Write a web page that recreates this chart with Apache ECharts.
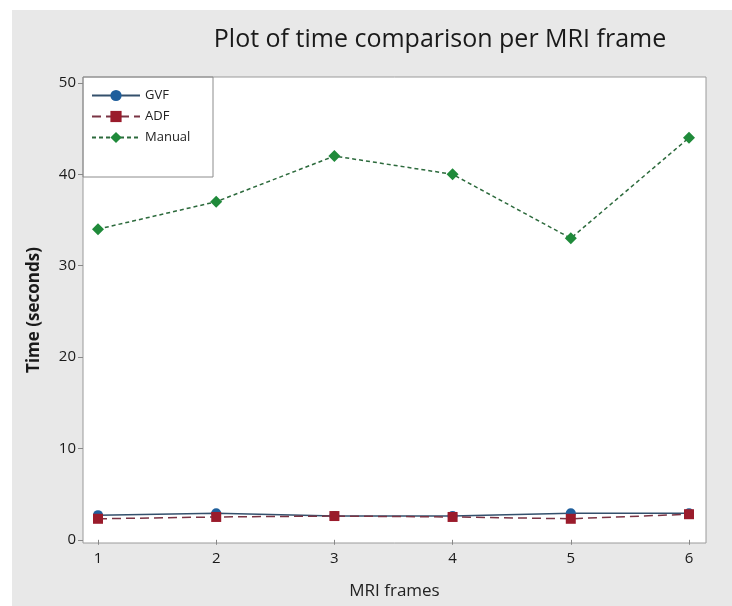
<!DOCTYPE html>
<html>
<head>
    <meta charset="utf-8">
    <title>Plot of time comparison per MRI frame</title>
    <script src="https://cdn.jsdelivr.net/npm/echarts@6/dist/echarts.min.js"></script>
</head>
<style>
    *{
        padding: 0;
        margin: 0;
    }
    body { background: #ffffff; }
    #main {
        width: 732px;
        height: 606px;
        position: absolute
    }
</style>
<body>
    <div id="main"></div>
    <script type="text/javascript">
    // data
    var frames = [1, 2, 3, 4, 5, 6];
    var gvf = [2.7, 2.9, 2.6, 2.6, 2.9, 2.9];
    var adf = [2.3, 2.5, 2.6, 2.5, 2.3, 2.8];
    var manual = [34, 37, 42, 40, 33, 44];
    var yTicks = [0, 10, 20, 30, 40, 50];

    function pairs(vals) {
        return frames.map(function (f, i) { return [f, vals[i]]; });
    }

    var font = '"Open Sans", "Noto Sans", sans-serif';
    var myChart = echarts.init(document.getElementById('main'));
    var option = {
        backgroundColor: '#ffffff',
        animation: false,
        textStyle: { fontFamily: font },
        title: {
            text: 'Plot of time comparison per MRI frame',
            left: 435,
            top: 22,
            textAlign: 'center',
            textStyle: { fontSize: 25, fontWeight: 'normal', color: '#1a1a1a', fontFamily: font }
        },
        graphic: [
            {
                type: 'rect', z: -100, silent: true,
                shape: { x: 12, y: 10, width: 720, height: 596 },
                style: { fill: '#e8e8e8' }
            },
            {
                type: 'rect', z: 100, silent: true,
                shape: { x: 83, y: 77, width: 130, height: 100 },
                style: { fill: 'none', stroke: '#8c8c8c', lineWidth: 1 }
            }
        ],
        legend: {
            left: 86,
            top: 84,
            orient: 'vertical',
            itemWidth: 48,
            itemHeight: 14,
            itemGap: 8,
            textStyle: { fontSize: 13, color: '#222', fontFamily: font },
            data: ['GVF', 'ADF', 'Manual']
        },
        grid: {
            left: 83, top: 77, width: 623, height: 466,
            show: true,
            backgroundColor: '#ffffff',
            borderColor: '#9a9a9a',
            borderWidth: 1
        },
        xAxis: {
            type: 'value',
            min: 0.873, max: 6.144,
            name: 'MRI frames',
            nameLocation: 'middle',
            nameGap: 40,
            nameTextStyle: { fontSize: 17, color: '#222', fontFamily: font },
            axisLine: { show: false },
            axisTick: { show: true, length: 5, customValues: frames, lineStyle: { color: '#888' } },
            axisLabel: { customValues: frames, fontSize: 15, color: '#1a1a1a', margin: 8 },
            splitLine: { show: false }
        },
        yAxis: {
            type: 'value',
            min: -0.35, max: 50.65,
            name: 'Time (seconds)',
            nameLocation: 'middle',
            nameGap: 40,
            nameTextStyle: { fontSize: 17, fontWeight: 'bold', color: '#1a1a1a', fontFamily: font },
            axisLine: { show: false },
            axisTick: { show: true, length: 5, customValues: yTicks, lineStyle: { color: '#888' } },
            axisLabel: { customValues: yTicks, fontSize: 15, color: '#1a1a1a', margin: 7 },
            splitLine: { show: false }
        },
        series: [
            {
                name: 'GVF', type: 'line', data: pairs(gvf),
                symbol: 'circle', symbolSize: 10,
                itemStyle: { color: '#1f5f9c' },
                lineStyle: { color: '#34506c', width: 1.5, type: 'solid' }
            },
            {
                name: 'ADF', type: 'line', data: pairs(adf),
                symbol: 'rect', symbolSize: 10,
                itemStyle: { color: '#9a1b2b' },
                lineStyle: { color: '#7a3444', width: 1.5, type: [9, 5] }
            },
            {
                name: 'Manual', type: 'line', data: pairs(manual),
                symbol: 'diamond', symbolSize: 12,
                itemStyle: { color: '#1f8a3a' },
                lineStyle: { color: '#2c6a3c', width: 1.5, type: [4, 3] }
            }
        ]
    };
    myChart.setOption(option);
    </script>
</body>
</html>
